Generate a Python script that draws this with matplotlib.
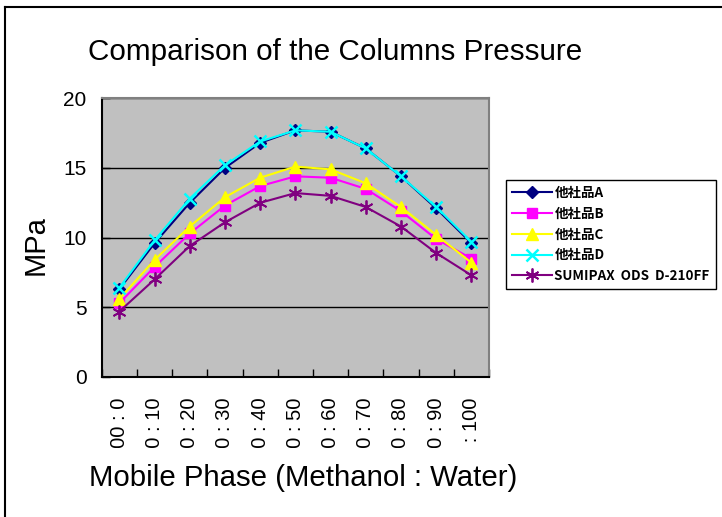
import matplotlib
matplotlib.use("Agg")
import matplotlib.pyplot as plt
import numpy as np
from matplotlib.lines import Line2D
from matplotlib.transforms import Bbox, TransformedBbox

# data
ratios = ["100 : 0", "90 : 10", "80 : 20", "70 : 30", "60 : 40", "50 : 50",
          "40 : 60", "30 : 70", "20 : 80", "10 : 90", "0 : 100"]
series_names = ["他社品A", "他社品B", "他社品C", "他社品D", "SUMIPAX  ODS  D-210FF"]
pressure_a = [6.3, 9.6, 12.5, 15.0, 16.8, 17.7, 17.6, 16.4, 14.4, 12.1, 9.6]
pressure_b = [5.3, 7.9, 10.3, 12.3, 13.7, 14.4, 14.3, 13.5, 11.9, 9.9, 8.5]
pressure_c = [5.6, 8.4, 10.8, 12.9, 14.3, 15.1, 14.9, 13.9, 12.2, 10.2, 8.2]
pressure_d = [6.4, 9.8, 12.8, 15.2, 16.9, 17.7, 17.6, 16.4, 14.4, 12.2, 9.7]
pressure_e = [4.7, 7.0, 9.4, 11.1, 12.5, 13.2, 13.0, 12.2, 10.8, 8.9, 7.3]

W, H = 722, 517
fig = plt.figure(figsize=(W / 100, H / 100), dpi=100)
fig.patch.set_facecolor("white")

ax = fig.add_axes([101.7 / W, 1 - 377 / H, 387.3 / W, 278.7 / H])
ax.set_facecolor("#C0C0C0")

x = np.arange(len(ratios))
styles = [
    dict(color="#000080", marker="D", ms=6),
    dict(color="#FF00FF", marker="s", ms=7),
    dict(color="#FFFF00", marker="^", ms=9),
    dict(color="#00FFFF", marker="x", ms=8, mew=1.8),
    dict(color="#800080", marker=(6, 2, 0), ms=10, mew=1.3),
]
all_values = [pressure_a, pressure_b, pressure_c, pressure_d, pressure_e]
for vals, name, st in zip(all_values, series_names, styles):
    ax.plot(x, vals, lw=1.5, label=name, **st)

ax.set_xlim(-0.5, len(ratios) - 0.5)
ax.set_ylim(0, 20)
ax.set_yticks([0, 5, 10, 15, 20])
ax.yaxis.grid(True, color="black", lw=1)
ax.set_axisbelow(True)
ax.tick_params(axis="y", direction="in", length=6, width=1, pad=11,
               labelsize=15, labelfontfamily="Liberation Sans")

ax.set_xticks(x)
ax.set_xticklabels(ratios, rotation=90, va="top", ha="center")
ax.set_xticks(np.arange(-0.5, len(ratios), 1), minor=True)
ax.tick_params(axis="x", which="major", length=0, pad=15, labelsize=14.5,
               labelfontfamily="Liberation Sans")
ax.tick_params(axis="x", which="minor", direction="in", length=6, width=1)

for side in ["left", "bottom"]:
    ax.spines[side].set_color("black")
    ax.spines[side].set_linewidth(1.5)
for side in ["top", "right"]:
    ax.spines[side].set_color("#808080")
    ax.spines[side].set_linewidth(1.5)

# the original cuts the rotated category labels off at the bottom
clip = TransformedBbox(Bbox([[0, 1 - 448 / H], [1, 1]]), fig.transFigure)
for t in ax.xaxis.get_major_ticks():
    t.label1.set_clip_box(clip)
    t.label1.set_clip_on(True)

fig.text(335 / W, 1 - 52 / H, "Comparison of the Columns Pressure",
         ha="center", va="center", fontsize=21.3, family="Liberation Sans")
fig.text(303 / W, 1 - 478 / H, "Mobile Phase (Methanol : Water)",
         ha="center", va="center", fontsize=21.2, family="Liberation Sans")
fig.text(36 / W, 1 - 245 / H, "MPa", rotation=90,
         ha="center", va="center", fontsize=21, family="Liberation Sans")

leg = fig.legend(loc="upper left", bbox_to_anchor=(506 / W, 1 - 180 / H),
                 bbox_transform=fig.transFigure, borderaxespad=0,
                 prop={"family": ["Noto Sans CJK JP", "DejaVu Sans"],
                       "weight": "bold", "size": 9.7},
                 handlelength=3.0, handletextpad=0.15, labelspacing=0.5,
                 borderpad=0.45, fancybox=False, framealpha=1)
leg.get_frame().set_edgecolor("black")
leg.get_frame().set_linewidth(1)

# outer chart border (left and top only are visible)
fig.add_artist(Line2D([5 / W, 5 / W], [0, 1 - 7 / H], transform=fig.transFigure,
                      color="black", lw=1.5))
fig.add_artist(Line2D([5 / W, 1], [1 - 7 / H, 1 - 7 / H], transform=fig.transFigure,
                      color="black", lw=1.5))

fig.savefig("out.png", dpi=100)
